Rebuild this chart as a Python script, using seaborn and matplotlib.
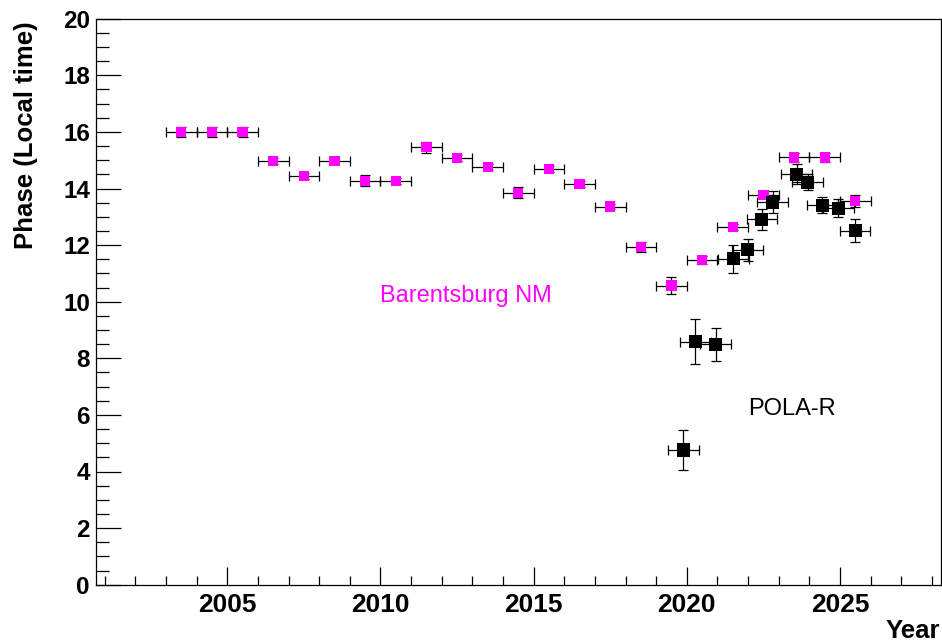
import matplotlib
matplotlib.use("Agg")
import matplotlib.pyplot as plt
import seaborn as sns
import numpy as np
import pandas as pd
from matplotlib.ticker import MultipleLocator

# Barentsburg NM
bar_year = [2003.5, 2004.5, 2005.5, 2006.5, 2007.5, 2008.5, 2009.5, 2010.5,
            2011.5, 2012.5, 2013.5, 2014.5, 2015.5, 2016.5, 2017.5, 2018.5,
            2019.5, 2020.5, 2021.5, 2022.5, 2023.5, 2024.5, 2025.5]
bar_phase = [16.0, 16.0, 16.0, 14.97, 14.45, 14.97, 14.27, 14.27,
             15.46, 15.08, 14.77, 13.85, 14.68, 14.16, 13.36, 11.94,
             10.57, 11.47, 12.65, 13.77, 15.10, 15.10, 13.56]
bar_xerr = [0.5] * len(bar_year)
bar_yerr = [0.19, 0.18, 0.18, 0.1, 0.1, 0.1, 0.19, 0.1,
            0.2, 0.1, 0.1, 0.2, 0.1, 0.1, 0.1, 0.18,
            0.29, 0.15, 0.1, 0.12, 0.15, 0.15, 0.2]

# POLA-R
pola_year = [2019.89, 2020.28, 2020.94, 2021.52, 2021.99, 2022.45, 2022.80,
             2023.58, 2023.94, 2024.42, 2024.95, 2025.49]
pola_phase = [4.76, 8.59, 8.49, 11.51, 11.83, 12.92, 13.51,
              14.51, 14.22, 13.41, 13.30, 12.51]
pola_xerr = [0.5] * len(pola_year)
pola_yerr = [0.71, 0.8, 0.59, 0.49, 0.4, 0.37, 0.39, 0.34, 0.29, 0.29, 0.32, 0.4]

x_label = "Year"
y_label = "Phase (Local time)"

sns.set_theme(style="ticks")
plt.rcParams['font.family'] = ['Liberation Sans', 'DejaVu Sans']
plt.rcParams['text.color'] = 'black'
plt.rcParams['axes.labelcolor'] = 'black'

fig = plt.figure(figsize=(9.42, 6.43), dpi=100)
ax = fig.add_axes([95.5 / 942, 1 - 584.7 / 643, (940.5 - 95.5) / 942, (584.7 - 18.7) / 643])

df_bar = pd.DataFrame({"year": bar_year, "phase": bar_phase})
df_pola = pd.DataFrame({"year": pola_year, "phase": pola_phase})

ekw = dict(fmt='none', ecolor='black', elinewidth=0.9, capsize=3.5, capthick=0.9, zorder=2)
ax.errorbar(bar_year, bar_phase, xerr=bar_xerr, yerr=bar_yerr, **ekw)
ax.errorbar(pola_year, pola_phase, xerr=pola_xerr, yerr=pola_yerr, **ekw)

sns.scatterplot(data=df_bar, x="year", y="phase", marker='s', s=55, color='#ff00ff',
                edgecolor='none', linewidth=0, ax=ax, zorder=3)
sns.scatterplot(data=df_pola, x="year", y="phase", marker='s', s=88, color='black',
                edgecolor='none', linewidth=0, ax=ax, zorder=4)

ax.text(2010.0, 10.0, "Barentsburg NM", color='#ff00ff', fontsize=17, ha='left', va='baseline')
ax.text(2022.0, 6.0, "POLA-R", color='black', fontsize=17, ha='left', va='baseline')

ax.set_xlim(2000.70, 2028.28)
ax.set_ylim(0, 20)
ax.xaxis.set_major_locator(MultipleLocator(5))
ax.xaxis.set_minor_locator(MultipleLocator(1))
ax.yaxis.set_major_locator(MultipleLocator(2))
ax.yaxis.set_minor_locator(MultipleLocator(0.5))

ax.tick_params(axis='x', which='major', direction='in', length=13, width=0.9,
               labelsize=19, pad=6, colors='black')
ax.tick_params(axis='x', which='minor', direction='in', length=6.5, width=0.9, colors='black')
ax.tick_params(axis='y', which='major', direction='in', length=18, width=0.9,
               labelsize=17.5, pad=4, colors='black')
ax.tick_params(axis='y', which='minor', direction='in', length=9.4, width=0.9, colors='black')
for lab in ax.get_xticklabels() + ax.get_yticklabels():
    lab.set_fontweight('bold')

for sp in ax.spines.values():
    sp.set_visible(True)
    sp.set_linewidth(0.9)
    sp.set_color('black')

ax.set_xlabel(x_label, fontsize=18.5, fontweight='bold', loc='right')
ax.set_ylabel(y_label, fontsize=18.5, fontweight='bold', loc='top')
ax.xaxis.set_label_coords(1.0, -0.06)
ax.yaxis.set_label_coords(-0.068, 0.995)
ax.grid(False)

fig.savefig("out.png", dpi=100, facecolor='white')
